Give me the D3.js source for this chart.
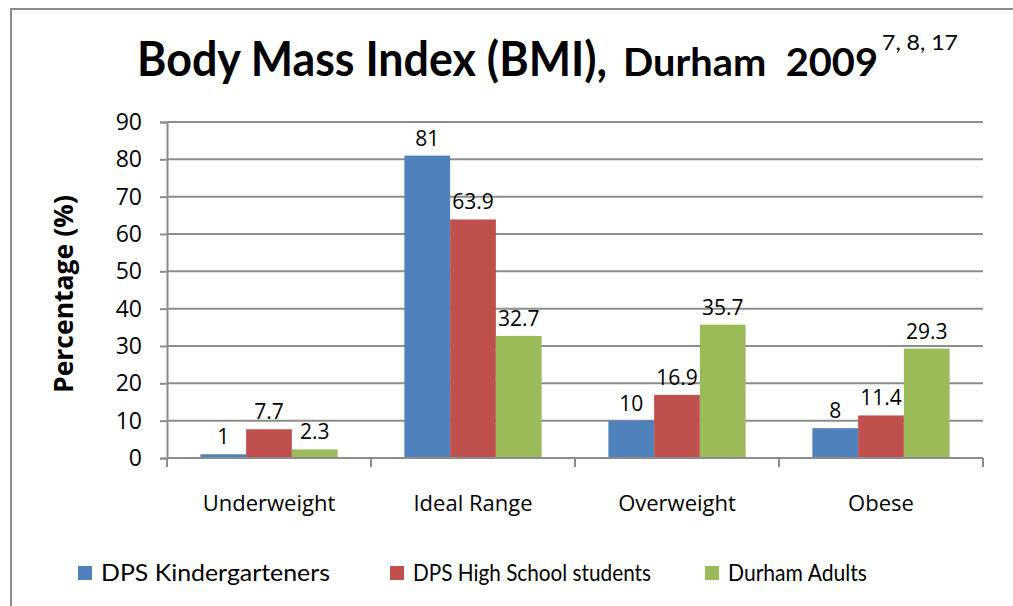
<!DOCTYPE html>
<html>
<head>
<meta charset="utf-8">
<script src="https://cdn.jsdelivr.net/npm/d3@7"></script>
<style>
  body { margin: 0; background: #fff; }
  svg { display: block; }
  text { white-space: pre; }
</style>
</head>
<body>
<div id="chart"></div>
<script>
const categories = ["Underweight", "Ideal Range", "Overweight", "Obese"];
const seriesNames = ["DPS Kindergarteners", "DPS High School students", "Durham Adults"];
const seriesColors = ["#4F81BD", "#C0504D", "#9BBB59"];
const kindergarteners = [1, 81, 10, 8];
const highSchool = [7.7, 63.9, 16.9, 11.4];
const adults = [2.3, 32.7, 35.7, 29.3];
const yTicks = [0, 10, 20, 30, 40, 50, 60, 70, 80, 90];

const seriesValues = [kindergarteners, highSchool, adults];

const width = 1013;
const height = 606;
const plot = { left: 167, right: 983, top: 122, bottom: 458 };
const gridColor = "#8c8c8c";
const numFont = "'Open Sans', 'Noto Sans', sans-serif";
const titleFont = "Lato, 'Open Sans', sans-serif";

const svg = d3
  .select("#chart")
  .append("svg")
  .attr("width", width)
  .attr("height", height)
  .attr("viewBox", `0 0 ${width} ${height}`);

// outer chart frame
svg
  .append("rect")
  .attr("x", 11)
  .attr("y", 9)
  .attr("width", width + 20)
  .attr("height", height + 20)
  .attr("fill", "#fff")
  .attr("stroke", gridColor)
  .attr("stroke-width", 2);

// fit a text node to a given width
function fit(sel, w) {
  sel.attr("textLength", w).attr("lengthAdjust", "spacingAndGlyphs");
}

// title
svg
  .append("text")
  .attr("x", 137)
  .attr("y", 76)
  .attr("font-family", titleFont)
  .attr("font-weight", "bold")
  .attr("font-size", "47px")
  .attr("fill", "#000")
  .text("Body Mass Index (BMI),")
  .call(fit, 470);

svg
  .append("text")
  .attr("x", 623)
  .attr("y", 76)
  .attr("font-family", titleFont)
  .attr("font-weight", "bold")
  .attr("font-size", "39px")
  .attr("fill", "#000")
  .text("Durham  2009")
  .call(fit, 255);

svg
  .append("text")
  .attr("x", 882)
  .attr("y", 50)
  .attr("font-family", titleFont)
  .attr("font-size", "21px")
  .attr("fill", "#000")
  .text("7, 8, 17")
  .call(fit, 76);

const x = d3.scaleBand().domain(categories).range([plot.left, plot.right]);
const xInner = d3
  .scaleBand()
  .domain(d3.range(seriesNames.length))
  .range([0, x.bandwidth()])
  .paddingOuter(0.73);
const y = d3.scaleLinear().domain([0, 90]).range([plot.bottom, plot.top]);

// gridlines
svg
  .append("g")
  .selectAll("line")
  .data(yTicks.filter((d) => d > 0))
  .join("line")
  .attr("x1", plot.left)
  .attr("x2", plot.right)
  .attr("y1", (d) => y(d))
  .attr("y2", (d) => y(d))
  .attr("stroke", gridColor)
  .attr("stroke-width", 2);

// y axis
const yAxis = svg
  .append("g")
  .attr("transform", `translate(${plot.left},0)`)
  .call(d3.axisLeft(y).tickValues(yTicks).tickSize(7).tickPadding(18));
yAxis.select(".domain").attr("stroke", gridColor).attr("stroke-width", 2);
yAxis.selectAll(".tick line").attr("stroke", gridColor).attr("stroke-width", 2);
yAxis
  .selectAll(".tick text")
  .attr("font-family", numFont)
  .attr("font-size", "23px")
  .attr("fill", "#000");

// bars
const groups = svg
  .append("g")
  .selectAll("g")
  .data(seriesValues)
  .join("g")
  .attr("fill", (d, i) => seriesColors[i]);

groups
  .selectAll("rect")
  .data((vals, si) => vals.map((v, ci) => ({ v, ci, si })))
  .join("rect")
  .attr("x", (d) => x(categories[d.ci]) + xInner(d.si))
  .attr("y", (d) => y(d.v))
  .attr("width", xInner.bandwidth())
  .attr("height", (d) => y(0) - y(d.v));

// data labels
groups
  .selectAll("text")
  .data((vals, si) => vals.map((v, ci) => ({ v, ci, si })))
  .join("text")
  .attr("x", (d) => x(categories[d.ci]) + xInner(d.si) + xInner.bandwidth() / 2)
  .attr("y", (d) => y(d.v) - 10)
  .attr("text-anchor", "middle")
  .attr("font-family", numFont)
  .attr("font-size", "21px")
  .attr("fill", "#000")
  .text((d) => d.v);

// x axis
const xAxis = svg.append("g");
xAxis
  .append("line")
  .attr("x1", plot.left)
  .attr("x2", plot.right)
  .attr("y1", plot.bottom)
  .attr("y2", plot.bottom)
  .attr("stroke", gridColor)
  .attr("stroke-width", 2);
xAxis
  .selectAll(".bound")
  .data(categories.map((c) => x(c)).concat([plot.right]))
  .join("line")
  .attr("class", "bound")
  .attr("x1", (d) => d)
  .attr("x2", (d) => d)
  .attr("y1", plot.bottom)
  .attr("y2", plot.bottom + 9)
  .attr("stroke", gridColor)
  .attr("stroke-width", 2);
xAxis
  .selectAll(".cat")
  .data(categories)
  .join("text")
  .attr("class", "cat")
  .attr("x", (d) => x(d) + x.bandwidth() / 2)
  .attr("y", 511)
  .attr("text-anchor", "middle")
  .attr("font-family", numFont)
  .attr("font-size", "22px")
  .attr("fill", "#000")
  .text((d) => d);

// y axis title
svg
  .append("text")
  .attr("transform", "translate(73,294) rotate(-90)")
  .attr("text-anchor", "middle")
  .attr("font-family", numFont)
  .attr("font-weight", "bold")
  .attr("font-size", "26px")
  .attr("fill", "#000")
  .text("Percentage (%)")
  .call(fit, 198);

// legend
const legendX = [78, 390, 705];
const legendW = [229, 238, 139];
const legend = svg.append("g").attr("class", "legend");
seriesNames.forEach((name, i) => {
  legend
    .append("rect")
    .attr("x", legendX[i])
    .attr("y", 566)
    .attr("width", 14)
    .attr("height", 14)
    .attr("fill", seriesColors[i]);
  legend
    .append("text")
    .attr("x", legendX[i] + 23)
    .attr("y", 581)
    .attr("font-family", titleFont)
    .attr("font-size", "24px")
    .attr("fill", "#000")
    .text(name)
    .call(fit, legendW[i]);
});
</script>
</body>
</html>
